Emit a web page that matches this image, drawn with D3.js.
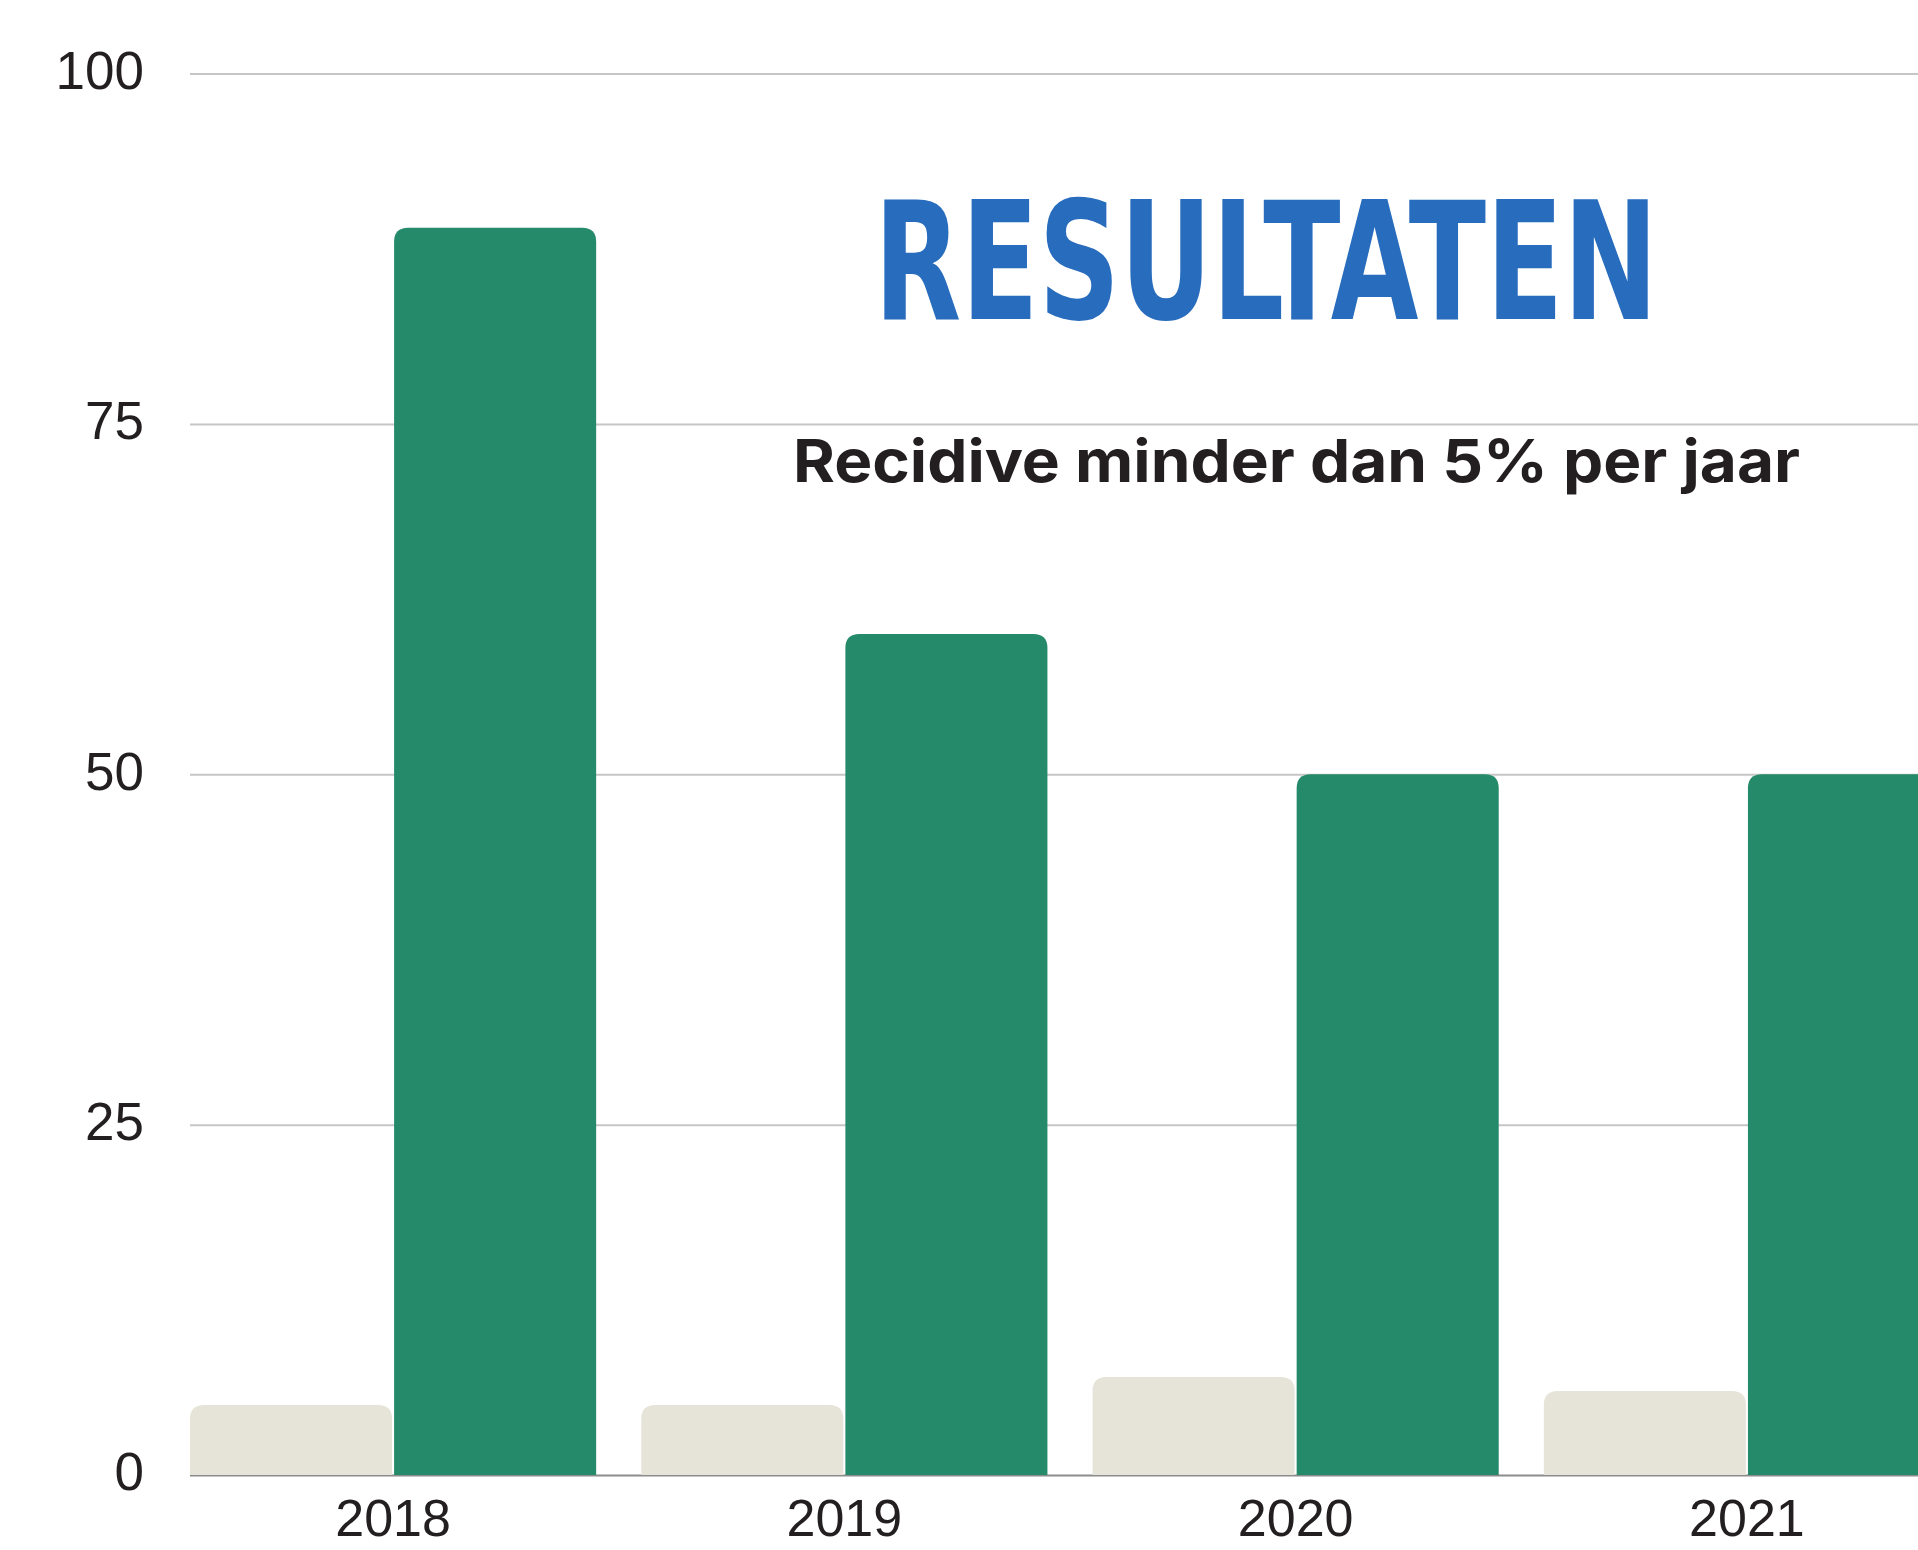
<!DOCTYPE html>
<html>
<head>
<meta charset="utf-8">
<script src="https://cdn.jsdelivr.net/npm/d3@7"></script>
<style>
  html, body { margin: 0; padding: 0; background: #fff; overflow: hidden; }
</style>
</head>
<body>
<div id="chart"></div>
<script>
// Chart data
const years = ["2018", "2019", "2020", "2021"];
const recidive = [5, 5, 7, 6];          // beige bars
const deelnemers = [89, 60, 50, 50];    // green bars
const yTicks = [0, 25, 50, 75, 100];
const seriesKeys = ["recidive", "deelnemers"];

const W = 1918, H = 1550;
const plot = { left: 190, right: 1950, top: 73.5, bottom: 1475 };

const svg = d3.select("#chart")
    .append("svg")
    .attr("width", W)
    .attr("height", H)
    .style("font-family", "Inter, 'Noto Sans', sans-serif");

const rows = years.map((y, i) => ({ year: y, recidive: recidive[i], deelnemers: deelnemers[i] }));

// Scales
const x0 = d3.scaleBand()
    .domain(years)
    .range([plot.left, plot.right])
    .paddingInner(0.1)
    .paddingOuter(0);

const x1 = d3.scaleBand()
    .domain(seriesKeys)
    .range([0, x0.bandwidth()])
    .paddingInner(0.01);

const y = d3.scaleLinear()
    .domain([0, 100])
    .range([plot.bottom, plot.top]);

const color = d3.scaleOrdinal()
    .domain(seriesKeys)
    .range(["#e6e4d8", "#258a69"]);

// Gridlines + y labels
const yAxis = svg.append("g")
    .attr("transform", `translate(${plot.left},0)`)
    .call(d3.axisLeft(y)
        .tickValues(yTicks)
        .tickSizeInner(-(W - plot.left))
        .tickSizeOuter(0)
        .tickPadding(46));
yAxis.select(".domain").remove();
yAxis.selectAll(".tick line")
    .attr("stroke", "#c6c6c6")
    .attr("stroke-width", 2);
yAxis.selectAll(".tick text")
    .attr("fill", "#231f20")
    .attr("dy", "0.28em")
    .style("font-size", "53px")
    .style("font-weight", 500);
yAxis.selectAll(".tick").filter(d => d === 0).select("line")
    .attr("stroke", "#8c8c8c");

// Rounded-top bar path
function topRounded(xp, yp, w, h, r) {
    r = Math.min(r, h, w / 2);
    return `M${xp},${yp + h}V${yp + r}Q${xp},${yp} ${xp + r},${yp}` +
        `H${xp + w - r}Q${xp + w},${yp} ${xp + w},${yp + r}V${yp + h}Z`;
}

// Bars
svg.append("g")
    .selectAll("g")
    .data(rows)
    .join("g")
    .attr("transform", d => `translate(${x0(d.year)},0)`)
    .selectAll("path")
    .data(d => seriesKeys.map(k => ({ key: k, value: d[k] })))
    .join("path")
    .attr("fill", d => color(d.key))
    .attr("d", d => topRounded(x1(d.key), y(d.value), x1.bandwidth(), y(0) - y(d.value), 14));

// X axis labels
const xAxis = svg.append("g")
    .attr("transform", `translate(0,${plot.bottom})`)
    .call(d3.axisBottom(x0).tickSize(0).tickPadding(24));
xAxis.select(".domain").remove();
xAxis.selectAll(".tick text")
    .attr("fill", "#231f20")
    .style("font-size", "52px")
    .style("font-weight", 500);

// Title
svg.append("text")
    .attr("x", 874)
    .attr("y", 319)
    .attr("textLength", 784)
    .attr("lengthAdjust", "spacingAndGlyphs")
    .attr("fill", "#286cbd")
    .style("font-family", "'DejaVu Sans Condensed', 'DejaVu Sans', sans-serif")
    .style("font-weight", "bold")
    .style("font-size", "164px")
    .text("RESULTATEN");

// Subtitle
svg.append("text")
    .attr("x", 793)
    .attr("y", 482)
    .attr("textLength", 1007)
    .attr("lengthAdjust", "spacingAndGlyphs")
    .attr("fill", "#231f20")
    .style("font-weight", 700)
    .style("font-size", "59px")
    .text("Recidive minder dan 5% per jaar");
</script>
</body>
</html>
